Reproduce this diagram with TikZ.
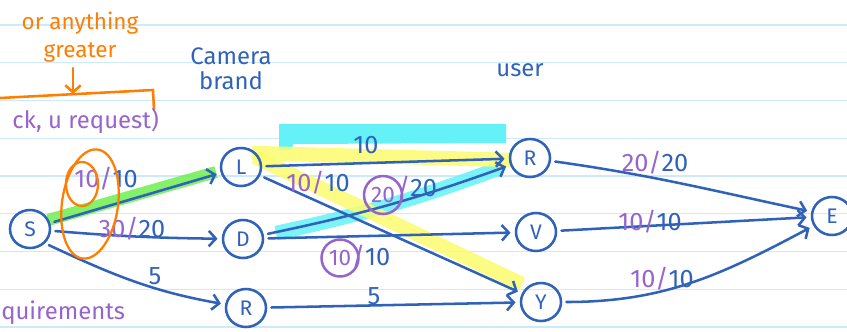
\documentclass[tikz,border=0pt]{standalone}
\usepackage{fontspec}
\setmainfont{Fira Sans}
\usetikzlibrary{arrows.meta,shapes.geometric}
\definecolor{ink}{RGB}{48,98,186}
\definecolor{lilac}{RGB}{150,100,205}
\definecolor{pen}{RGB}{255,125,0}
\definecolor{ruled}{RGB}{205,234,250}
\definecolor{hlgreen}{RGB}{110,238,80}
\definecolor{hlcyan}{RGB}{100,242,248}
\definecolor{hlyellow}{RGB}{252,252,110}
\newcommand\pu[1]{\textcolor{lilac}{#1}}

\begin{document}
\begin{tikzpicture}[x=0.025cm,y=-0.025cm,>={Straight Barb[length=5pt,width=11pt]},line width=1.8pt,line cap=round,
 v/.style={draw=ink,ellipse,minimum width=1cm,minimum height=0.95cm,inner sep=0pt,font=\fontsize{15}{15}\selectfont,text=ink},
 e/.style={draw=ink,->,shorten >=3pt,shorten <=3pt},
 lab/.style={font=\fontsize{18}{18}\selectfont,text=ink,inner sep=1pt},
 ring/.style={draw=lilac,circle,inner sep=2.5pt,text=lilac,font=\fontsize{16}{16}\selectfont},
 note/.style={font=\fontsize{17}{18}\selectfont,align=center,inner sep=0pt},
 hl/.style={line width=0.36cm,line cap=butt,opacity=0.85}]
\useasboundingbox (0,0) rectangle (847,331);
\foreach \i in {0,...,8}
  \draw[ruled,line width=1pt] (0,25+37.75*\i) -- (847,25+37.75*\i);

\fill[hlcyan] (279,124) -- (506,124) -- (506,143) -- (293,144) -- (292,150) -- (279,150) -- cycle;
\draw[hl,hlcyan] (276,233) to[bend right=4] (500,168);
\draw[hl,hlgreen,line width=0.3cm] (48,220) -- (216,172);
\draw[hl,hlyellow] (252,153) -- (512,160);
\draw[hl,hlyellow] (255,157) -- (522,284);

\node[v] (S) at (30,229) {S};
\node[v] (L) at (241,167) {L};
\node[v] (D) at (243,239) {D};
\node[v] (Rl) at (246,308) {R};
\node[v] (Ru) at (530,158) {R};
\node[v] (V) at (536,232) {V};
\node[v] (Y) at (541,302) {Y};
\node[v] (E) at (832,216) {E};

\draw[e] (S) -- (L);
\draw[e] (S) to[bend right=2] (D);
\draw[e] (S.south east) to[out=-25,in=170] (Rl);
\draw[e] (L) -- (Ru);
\draw[e] (L) -- (Y);
\draw[e] (D) to[bend right=4] (Ru);
\draw[e] (D) -- (V);
\draw[e] (Rl) -- (Y);
\draw[e] (Ru) to[out=-8,in=168] (E);
\draw[e] (V) -- (E);
\draw[e] (Y) to[out=0,in=208] (E);

\node[lab] (fSL) at (106,179) {\pu{10/}10};
\node[lab] (fSD) at (132,229) {\pu{30/}20};
\node[lab] (fSR) at (155,276) {5};
\node[lab] (fLR) at (366,145) {10};
\node[lab] (fLY) at (318,183) {\pu{10/}10};
\node[ring] (cDR) at (383,195) {20};
\node[lab] (fDR) at (417,188) {\pu{/}20};
\node[ring] (cDV) at (340,258) {10};
\node[lab] (fDV) at (371,257) {\pu{/}10};
\node[lab] (fRY) at (374,296) {5};
\node[lab] (fRE) at (655,163) {\pu{20/}20};
\node[lab] (fVE) at (650,222) {\pu{10/}10};
\node[lab] (fYE) at (662,279) {\pu{10/}10};

\node[draw=pen,ellipse,minimum width=0.8cm,minimum height=1.1cm,line width=1.6pt] (o1) at (82,184) {};
\node[draw=pen,ellipse,rotate=-8,minimum width=1.4cm,minimum height=2.75cm,line width=1.6pt] (o2) at (90,204) {};

\node[note,text=pen,font=\fontsize{16}{20}\selectfont] (more) at (80,37) {or anything\\greater};
\coordinate (bl) at (0,98);
\coordinate (bt) at (73,94);
\coordinate (br) at (153,90);
\coordinate (bb) at (154,110);
\draw[pen,->] (73,68) -- (bt);
\draw[pen] (bl) -- (br) -- (bb);
\node[note,text=lilac,anchor=east] (req) at (160,121) {ck, u request)};
\node[note,text=lilac,anchor=west] (quir) at (0,313) {quirements};
\node[note,text=ink] (cam) at (231,69) {Camera\\brand};
\node[note,text=ink] (usr) at (520,70) {user};
\end{tikzpicture}
\end{document}
